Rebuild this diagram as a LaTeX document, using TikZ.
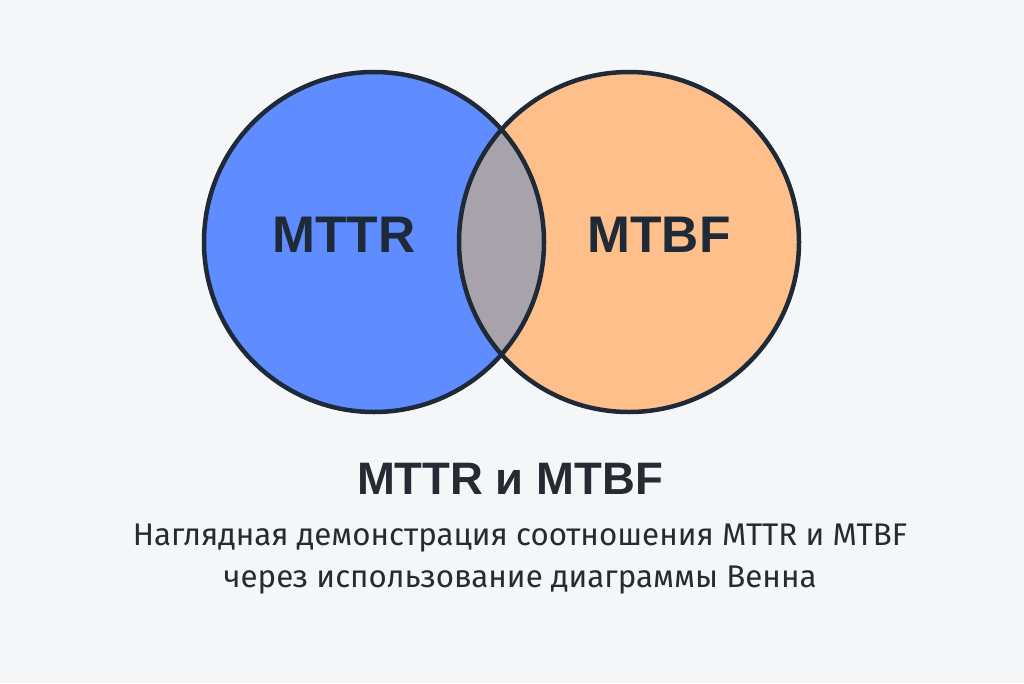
\documentclass[tikz,border=0pt]{standalone}
\usepackage{fontspec}
\setmainfont{Fira Sans}
\newfontfamily\boldface{Liberation Sans}
\definecolor{bg}{HTML}{F5F6F8}
\definecolor{ink}{HTML}{1F2A38}
\definecolor{bluec}{HTML}{5F8DFF}
\definecolor{orangec}{HTML}{FFBF8A}
\definecolor{lensc}{HTML}{A8A2AB}
\definecolor{txt}{HTML}{262B33}
\begin{document}
\begin{tikzpicture}[x=1pt,y=-1pt,
  ring/.style={draw=ink,line width=4.5pt},
  big/.style={font=\boldface\fontsize{51.5}{60}\selectfont\bfseries,text=ink,inner sep=0pt},
  title/.style={font=\boldface\fontsize{45.5}{54}\selectfont\bfseries,text=txt,inner sep=0pt},
  sub/.style={font=\fontsize{31.3}{42}\selectfont,text=txt,inner sep=0pt,align=center}]
\fill[bg] (0,0) rectangle (1024,683);
\useasboundingbox (0,0) rectangle (1024,683);
\coordinate (cl) at (374,242);
\coordinate (cr) at (629,242);
\fill[bluec] (cl) circle[radius=170pt];
\fill[orangec] (cr) circle[radius=170pt];
\begin{scope}
  \clip (cl) circle[radius=170pt];
  \fill[lensc] (cr) circle[radius=170pt];
\end{scope}
\draw[ring] (cl) circle[radius=170pt];
\draw[ring] (cr) circle[radius=170pt];
\node[big] (mttr) at (344,235) {MTTR};
\node[big] (mtbf) at (659,235) {MTBF};
\node[title] (ttl) at (510,479) {MTTR и MTBF};
\node[sub] (subt) at (520,559) {Наглядная демонстрация соотношения MTTR и MTBF\\через использование диаграммы Венна};
\end{tikzpicture}
\end{document}
